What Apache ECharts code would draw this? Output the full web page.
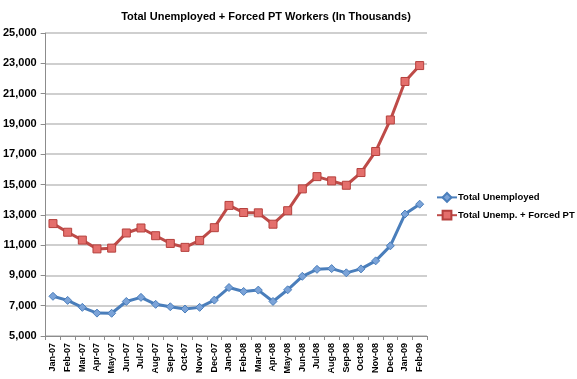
<!DOCTYPE html>
<html><head><meta charset="utf-8">
<script src="https://cdn.jsdelivr.net/npm/echarts@6/dist/echarts.min.js"></script>
<style>html,body{margin:0;padding:0;background:#fff}#c{width:577px;height:379px}</style>
</head><body><div id="c"></div>
<script>
const categories = ["Jan-07","Feb-07","Mar-07","Apr-07","May-07","Jun-07","Jul-07","Aug-07","Sep-07","Oct-07","Nov-07","Dec-07",
"Jan-08","Feb-08","Mar-08","Apr-08","May-08","Jun-08","Jul-08","Aug-08","Sep-08","Oct-08","Nov-08","Dec-08","Jan-09","Feb-09"];
const totalUnemployed = [7620,7350,6890,6510,6500,7280,7550,7090,6930,6780,6890,7370,8200,7940,8030,7280,8050,8940,9400,9450,9170,9430,9960,10950,13050,13700];
const totalPlusForcedPT = [12420,11850,11330,10750,10800,11800,12130,11620,11110,10850,11310,12150,13620,13150,13130,12380,13270,14710,15520,15240,14950,15790,17180,19260,21800,22850];
const yTicks = {min:5000, max:25000, interval:2000};
const FONT = "Liberation Sans";
const chart = echarts.init(document.getElementById('c'));
chart.setOption({
  animation:false,
  textStyle:{fontFamily:FONT},
  title:{text:"Total Unemployed + Forced PT Workers (In Thousands)", left:261, textAlign:'center', top:6,
    textStyle:{fontFamily:FONT, fontSize:11, fontWeight:'bold', color:'#000'}},
  legend:{orient:'vertical', left:431, top:187, itemWidth:20, itemHeight:11, itemGap:7,
    textStyle:{fontFamily:FONT, fontSize:9.5, fontWeight:'bold', color:'#000', padding:[0,0,0,-4]}},
  grid:{left:45, right:150, top:33, bottom:43},
  xAxis:{type:'category', data:categories, boundaryGap:true,
    axisLine:{lineStyle:{color:'#8c8c8c', width:1}},
    axisTick:{show:true, alignWithLabel:false, length:4, lineStyle:{color:'#8c8c8c'}},
    axisLabel:{rotate:90, interval:0, fontFamily:FONT, fontSize:9, fontWeight:'bold', color:'#000', margin:7}},
  yAxis:{type:'value', min:yTicks.min, max:yTicks.max, interval:yTicks.interval,
    axisLine:{show:true, lineStyle:{color:'#8c8c8c', width:1}},
    axisTick:{show:true, length:5, lineStyle:{color:'#8c8c8c'}},
    splitLine:{lineStyle:{color:'#bfbfbf', width:1.5}},
    axisLabel:{fontFamily:FONT, fontSize:11, fontWeight:'bold', color:'#000', margin:9,
      formatter:v=>v.toLocaleString('en-US')}},
  series:[
    {name:'Total Unemployed', type:'line', data:totalUnemployed, symbol:'diamond', symbolSize:8,
      lineStyle:{color:'#4a7ebb', width:3},
      itemStyle:{color:'#7ba3d8', borderColor:'#4a7ebb', borderWidth:1}},
    {name:'Total Unemp. + Forced PT', type:'line', data:totalPlusForcedPT, symbol:'rect', symbolSize:8,
      lineStyle:{color:'#be4b48', width:3},
      itemStyle:{color:'#e46f6c', borderColor:'#b5403d', borderWidth:1}}
  ]
});
</script></body></html>
